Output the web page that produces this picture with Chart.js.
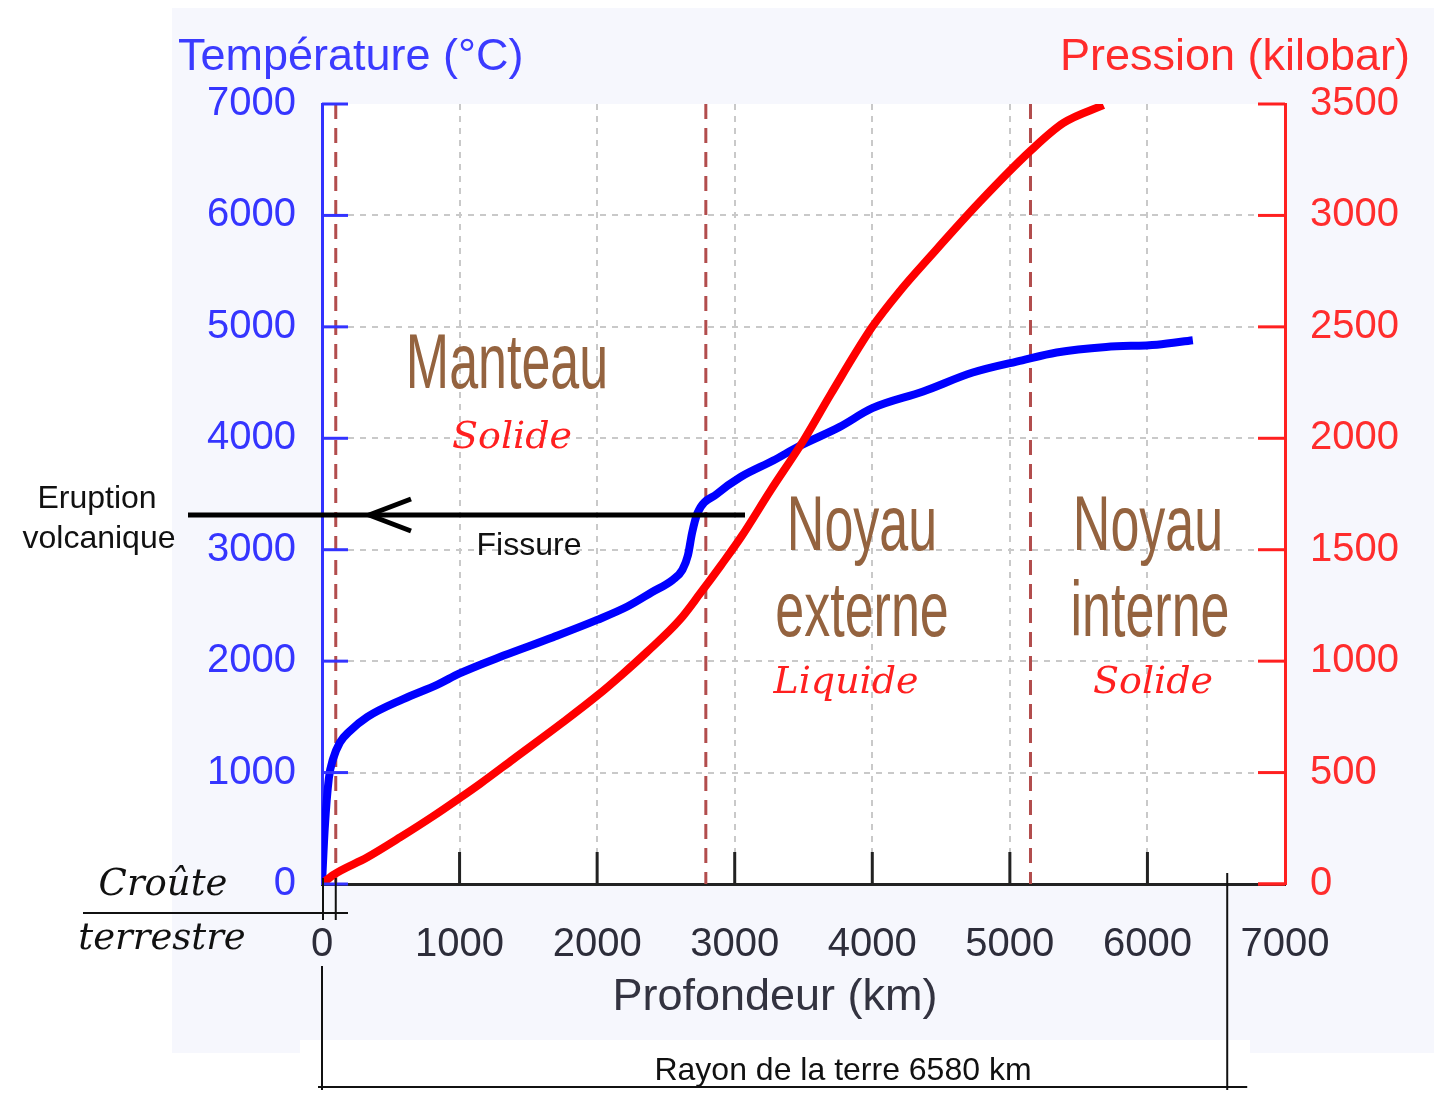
<!DOCTYPE html>
<html>
<head>
<meta charset="utf-8">
<script src="https://cdn.jsdelivr.net/npm/chart.js@4"></script>
<style>
  body { margin: 0; background: #fff; }
  canvas { display: block; }
</style>
</head>
<body>
<canvas id="chart" width="1434" height="1095"></canvas>
<script>
// température (°C) en fonction de la profondeur (km)
const depthT = [0, 20, 50, 80, 130, 200, 330, 590, 840, 1000, 1320, 1680, 2000, 2220, 2400, 2550, 2620, 2660, 2690, 2730, 2870, 3040, 3280, 3470, 3760, 4000, 4370, 4730, 5090, 5340, 5700, 6070, 6330];
const temperature = [0, 500, 950, 1120, 1270, 1370, 1500, 1660, 1790, 1890, 2050, 2215, 2370, 2490, 2620, 2730, 2820, 2950, 3150, 3330, 3500, 3650, 3800, 3930, 4100, 4270, 4420, 4590, 4700, 4770, 4820, 4840, 4880];

// pression (kilobar) en fonction de la profondeur (km)
const depthP = [0, 80, 330, 570, 810, 1000, 1150, 1390, 1750, 2000, 2190, 2360, 2600, 2750, 2900, 3050, 3260, 3500, 3700, 4000, 4200, 4420, 4780, 5150, 5390, 5680];
const pressure = [0, 40, 120, 210, 305, 385, 450, 560, 725, 845, 945, 1040, 1185, 1305, 1430, 1560, 1765, 1990, 2200, 2500, 2660, 2815, 3060, 3290, 3415, 3495];

// limites croûte / manteau / noyau externe / noyau interne
const layerLimits = [100, 2790, 5150];
const earthRadius = 6580;

const tickFont = { family: "Liberation Sans", size: 40 };
const plain = (v) => String(v);

function txt(c, s, x, y, font, color, align, sy) {
  c.save();
  c.font = font;
  c.fillStyle = color;
  c.textAlign = align || "center";
  c.textBaseline = "alphabetic";
  c.translate(x, y);
  c.scale(1, sy || 1);
  c.fillText(s, 0, 0);
  c.restore();
}

function line(c, x1, y1, x2, y2, color, w) {
  c.strokeStyle = color;
  c.lineWidth = w;
  c.beginPath();
  c.moveTo(x1, y1);
  c.lineTo(x2, y2);
  c.stroke();
}

const decor = {
  id: "decor",
  beforeDraw(chart) {
    const c = chart.ctx, a = chart.chartArea;
    c.save();
    c.fillStyle = "#ffffff";
    c.fillRect(0, 0, chart.width, chart.height);
    c.fillStyle = "#f6f7fd";
    c.fillRect(172, 8, 1262, 1045);
    c.fillStyle = "#ffffff";
    c.fillRect(a.left, a.top, a.right - a.left, a.bottom - a.top);
    c.fillRect(300, 1040, 950, 55);
    c.restore();
  },
  beforeDatasetsDraw(chart) {
    const c = chart.ctx, a = chart.chartArea, x = chart.scales.x;
    c.save();
    c.setLineDash([15, 9]);
    layerLimits.forEach((d) => {
      const px = x.getPixelForValue(d);
      line(c, px, a.top, px, a.bottom, "#b24d4d", 3);
    });
    c.restore();
  },
  afterDatasetsDraw(chart) {
    const c = chart.ctx, a = chart.chartArea;
    const x = chart.scales.x, y = chart.scales.y, y2 = chart.scales.y2;
    c.save();

    // graduations vers l'intérieur
    y.ticks.forEach((t) => {
      const py = y.getPixelForValue(t.value);
      line(c, a.left, py, a.left + 26, py, "#3333ff", 3);
    });
    y2.ticks.forEach((t) => {
      const py = y2.getPixelForValue(t.value);
      line(c, a.right - 27, py, a.right, py, "#ff2020", 3);
    });
    x.ticks.forEach((t) => {
      if (t.value <= 0 || t.value >= 7000) return;
      const px = x.getPixelForValue(t.value);
      line(c, px, a.bottom - 32, px, a.bottom, "#222222", 3);
    });
    line(c, a.right - 27, a.bottom, a.right, a.bottom, "#ff2020", 3);

    // titres des axes
    txt(c, "Température (°C)", 178, 70, "45px 'Liberation Sans'", "#3b3bff", "left");
    txt(c, "Pression (kilobar)", 1410, 70, "45px 'Liberation Sans'", "#ff2b2b", "right");
    txt(c, "Profondeur (km)", 775, 1010, "45px 'Liberation Sans'", "#333340", "center");

    // couches
    const brown = "#94633f", hand = "52px 'Liberation Sans Narrow', 'Liberation Sans'";
    txt(c, "Manteau", 507, 388, hand, brown, "center", 1.5);
    txt(c, "Noyau", 862, 550, hand, brown, "center", 1.5);
    txt(c, "externe", 862, 636, hand, brown, "center", 1.5);
    txt(c, "Noyau", 1148, 550, hand, brown, "center", 1.5);
    txt(c, "interne", 1150, 636, hand, brown, "center", 1.5);
    const cur = "italic 38px 'DejaVu Serif'";
    txt(c, "Solide", 512, 448, cur, "#ff2020");
    txt(c, "Liquide", 846, 693, cur, "#ff2020");
    txt(c, "Solide", 1153, 693, cur, "#ff2020");

    // fissure et éruption
    line(c, 188, 515, 745, 515, "#000000", 5);
    c.lineJoin = "round";
    c.beginPath();
    c.moveTo(411, 499);
    c.lineTo(369, 515);
    c.lineTo(411, 531);
    c.lineWidth = 5;
    c.stroke();
    txt(c, "Eruption", 97, 508, "32px 'Liberation Sans'", "#111111");
    txt(c, "volcanique", 99, 548, "32px 'Liberation Sans'", "#111111");
    txt(c, "Fissure", 529, 555, "32px 'Liberation Sans'", "#111111");

    // croûte terrestre
    const x0 = x.getPixelForValue(0), x1 = x.getPixelForValue(layerLimits[0]);
    line(c, 83, 913, 348, 913, "#111111", 2);
    line(c, x0 + 1, 878, x0 + 1, 920, "#111111", 2);
    line(c, x1, 878, x1, 920, "#111111", 2);
    txt(c, "Croûte", 163, 895, "italic 37px 'DejaVu Serif'", "#111111");
    txt(c, "terrestre", 162, 949, "italic 37px 'DejaVu Serif'", "#111111");

    // rayon de la terre
    const xr = x.getPixelForValue(earthRadius);
    line(c, x0, 966, x0, 1090, "#111111", 2);
    line(c, xr, 873, xr, 1090, "#111111", 2);
    line(c, x0 - 4, 1087, xr + 20, 1087, "#111111", 2);
    txt(c, "Rayon de la terre 6580 km", 843, 1080, "32px 'Liberation Sans'", "#111111");
    c.restore();
  },
};

new Chart(document.getElementById("chart"), {
  type: "line",
  data: {
    datasets: [
      {
        label: "Pression",
        data: depthP.map((d, i) => ({ x: d, y: pressure[i] })),
        yAxisID: "y2",
        borderColor: "#ff0000",
        borderWidth: 8,
        pointRadius: 0,
        cubicInterpolationMode: "monotone",
      },
      {
        label: "Température",
        data: depthT.map((d, i) => ({ x: d, y: temperature[i] })),
        yAxisID: "y",
        borderColor: "#0000ff",
        borderWidth: 8,
        pointRadius: 0,
        cubicInterpolationMode: "monotone",
      },
    ],
  },
  options: {
    responsive: false,
    animation: false,
    layout: { padding: { top: 104, left: 0, right: 0, bottom: 0 } },
    plugins: { legend: { display: false }, tooltip: { enabled: false } },
    scales: {
      x: {
        type: "linear",
        min: 0,
        max: 7000,
        ticks: { stepSize: 1000, color: "#2d2d3a", font: tickFont, padding: 37, callback: plain },
        grid: {
          lineWidth: 2,
          drawTicks: false,
          color: (ctx) => (ctx.tick && (ctx.tick.value === 0 || ctx.tick.value === 7000) ? "rgba(0,0,0,0)" : "#c9c9c9"),
        },
        border: { color: "#222222", width: 3, dash: [6, 6] },
        afterFit: (s) => { s.height = 211; },
      },
      y: {
        position: "left",
        min: 0,
        max: 7000,
        ticks: { stepSize: 1000, color: "#3535ff", font: tickFont, padding: 26, callback: plain },
        grid: {
          lineWidth: 2,
          drawTicks: false,
          color: (ctx) => (ctx.tick && (ctx.tick.value === 0 || ctx.tick.value === 7000) ? "rgba(0,0,0,0)" : "#c9c9c9"),
        },
        border: { color: "#3333ff", width: 3, dash: [6, 6] },
        afterFit: (s) => { s.width = 322; },
      },
      y2: {
        position: "right",
        min: 0,
        max: 3500,
        ticks: { stepSize: 500, color: "#ff2d2d", font: tickFont, padding: 25, callback: plain },
        grid: { display: false, drawTicks: false },
        border: { color: "#ff2020", width: 3 },
        afterFit: (s) => { s.width = 149; },
      },
    },
  },
  plugins: [decor],
});
</script>
</body>
</html>
